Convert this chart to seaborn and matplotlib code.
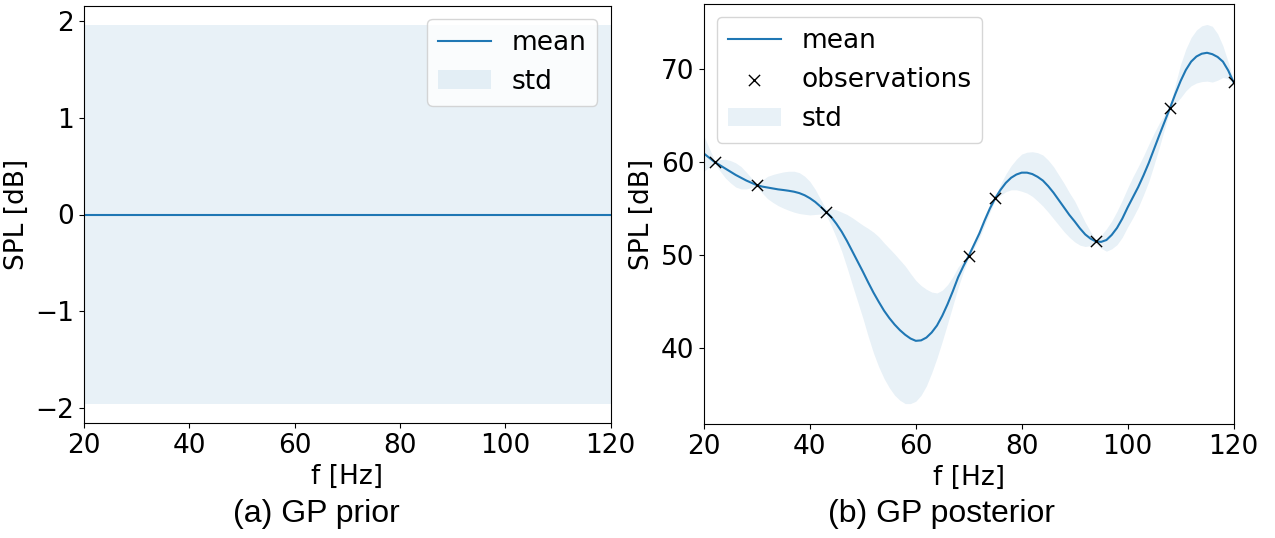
import matplotlib
matplotlib.use("Agg")
import matplotlib.pyplot as plt
import seaborn as sns
import numpy as np
import pandas as pd

# ---- data ----
prior_f = [20, 120]
prior_mean = [0.0, 0.0]
prior_std = [1.96, 1.96]

post_f = list(range(20, 121))
post_mean = [60.9, 60.45, 60.0, 59.65, 59.3, 58.95, 58.6, 58.3, 58.0, 57.75,
             57.5, 57.35, 57.25, 57.15, 57.05, 56.98, 56.9, 56.8, 56.65, 56.42,
             56.1, 55.7, 55.2, 54.65, 54.1, 53.35, 52.5, 51.5, 50.4, 49.3,
             48.2, 47.05, 45.95, 44.95, 44.0, 43.2, 42.5, 41.9, 41.4, 41.0,
             40.75, 40.8, 41.1, 41.65, 42.4, 43.45, 44.7, 46.1, 47.6, 48.8,
             49.9, 51.1, 52.3, 53.7, 55.0, 56.1, 57.0, 57.75, 58.3, 58.65,
             58.85, 58.85, 58.7, 58.4, 58.0, 57.4, 56.7, 55.9, 55.1, 54.3,
             53.6, 52.85, 52.2, 51.75, 51.45, 51.4, 51.6, 52.15, 52.9, 53.9,
             55.1, 56.2, 57.3, 58.55, 59.9, 61.4, 62.9, 64.35, 65.8, 67.3,
             68.7, 69.9, 70.8, 71.35, 71.65, 71.75, 71.6, 71.3, 70.8, 69.85,
             68.6]
post_std = [1.9, 1.0, 0.2, 0.6, 1.0, 1.2, 1.3, 1.2, 0.9, 0.5,
            0.2, 0.7, 1.2, 1.5, 1.75, 1.95, 2.1, 2.2, 2.2, 2.05,
            1.8, 1.35, 0.8, 0.3, 0.9, 1.5, 2.1, 2.85, 3.6, 4.3,
            5.0, 5.8, 6.5, 7.0, 7.3, 7.5, 7.6, 7.55, 7.4, 7.0,
            6.5, 5.9, 5.2, 4.35, 3.5, 2.75, 2.1, 1.55, 1.1, 0.6,
            0.2, 0.4, 0.5, 0.5, 0.4, 0.2, 0.6, 0.95, 1.3, 1.65,
            2.0, 2.2, 2.4, 2.6, 2.75, 2.8, 2.8, 2.7, 2.6, 2.4,
            2.2, 1.8, 1.3, 0.75, 0.2, 0.7, 1.2, 1.5, 1.8, 2.0,
            2.1, 2.2, 2.2, 2.1, 2.0, 1.7, 1.3, 0.75, 0.2, 1.0,
            1.8, 2.25, 2.6, 2.85, 3.0, 3.05, 3.0, 2.5, 1.7, 0.9,
            0.2]

obs_f = [22, 30, 43, 70, 75, 94, 108, 120]
obs_spl = [60.0, 57.5, 54.6, 49.9, 56.15, 51.45, 65.8, 68.6]

captions = ["(a) GP prior", "(b) GP posterior"]

# ---- style ----
plt.rcParams['font.family'] = ['DejaVu Sans']
FS = 19
plt.rcParams.update({
    'font.size': FS,
    'axes.labelsize': FS,
    'xtick.labelsize': FS,
    'ytick.labelsize': FS,
    'legend.fontsize': FS,
})

BLUE = '#1f77b4'

fig = plt.figure(figsize=(12.75, 5.38), dpi=100)
ax1 = fig.add_axes([84 / 1275, 1 - 423 / 538, 526.5 / 1275, 417 / 538])
ax2 = fig.add_axes([704 / 1275, 1 - 424 / 538, 529.5 / 1275, 420 / 538])

# ---- prior ----
prior_df = pd.DataFrame({"f": prior_f, "mean": prior_mean, "std": prior_std})
sns.lineplot(data=prior_df, x="f", y="mean", ax=ax1, color=BLUE, lw=1.5,
             label="mean")
ax1.fill_between(prior_df["f"], prior_df["mean"] - prior_df["std"],
                 prior_df["mean"] + prior_df["std"], color=BLUE, alpha=0.1,
                 lw=0, label="std")
ax1.set_xlim(20, 120)
ax1.set_ylim(-2.156, 2.156)
ax1.set_xticks([20, 40, 60, 80, 100, 120])
ax1.set_yticks([-2, -1, 0, 1, 2])
ax1.set_xlabel("f [Hz]")
ax1.set_ylabel("SPL [dB]")
ax1.legend(loc="upper right")

# ---- posterior ----
post_df = pd.DataFrame({"f": post_f, "mean": post_mean, "std": post_std})
obs_df = pd.DataFrame({"f": obs_f, "spl": obs_spl})
sns.lineplot(data=post_df, x="f", y="mean", ax=ax2, color=BLUE, lw=1.5,
             label="mean")
sns.scatterplot(data=obs_df, x="f", y="spl", ax=ax2, marker="x", color="black",
                s=65, linewidth=1.0, label="observations", zorder=3,
                clip_on=True)
ax2.fill_between(post_df["f"], post_df["mean"] - post_df["std"],
                 post_df["mean"] + post_df["std"], color=BLUE, alpha=0.1,
                 lw=0, label="std")
ax2.set_xlim(20, 120)
ax2.set_ylim(31.8, 77.0)
ax2.set_xticks([20, 40, 60, 80, 100, 120])
ax2.set_yticks([40, 50, 60, 70])
ax2.set_xlabel("f [Hz]")
ax2.set_ylabel("SPL [dB]")
ax2.legend(loc="upper left")

for ax in (ax1, ax2):
    for s in ax.spines.values():
        s.set_color("black")

# ---- captions ----
fig.text(316 / 1275, 1 - 514 / 538, captions[0], ha="center", va="center",
         fontsize=23, family=["Liberation Sans", "DejaVu Sans"])
fig.text(941 / 1275, 1 - 514 / 538, captions[1], ha="center", va="center",
         fontsize=23, family=["Liberation Sans", "DejaVu Sans"])

fig.savefig("out.png", dpi=100)
